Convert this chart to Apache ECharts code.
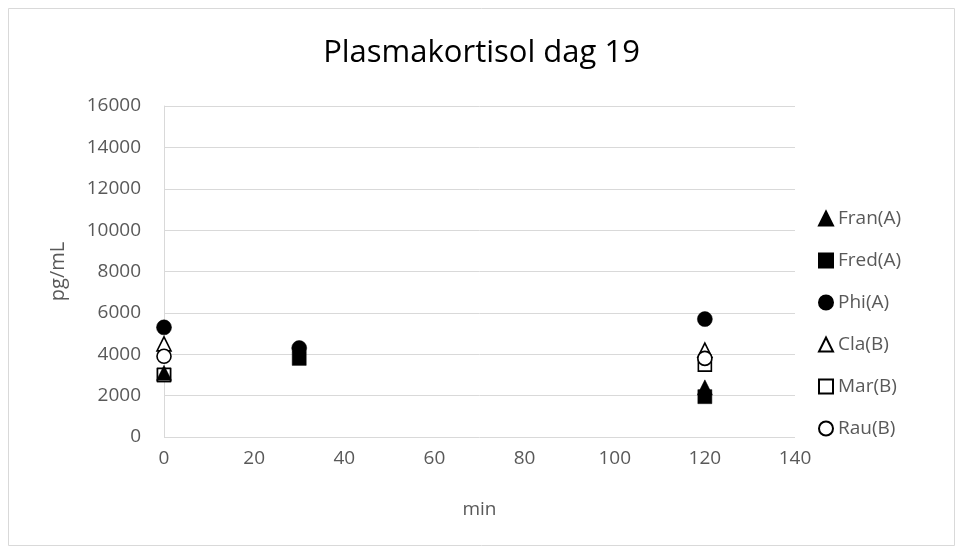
<!DOCTYPE html>
<html><head><meta charset="utf-8">
<script src="https://cdn.jsdelivr.net/npm/echarts@6/dist/echarts.min.js"></script>
<style>html,body{margin:0;padding:0;background:#fff}#c{width:963px;height:551px}</style>
</head><body><div id="c"></div>
<script>
const xTicks = [0, 20, 40, 60, 80, 100, 120, 140];
const seriesNames = ['Fran(A)', 'Fred(A)', 'Phi(A)', 'Cla(B)', 'Mar(B)', 'Rau(B)'];
const franA = [[0, 3100], [120, 2400]];
const fredA = [[0, 3000], [30, 3800], [120, 1950]];
const phiA = [[0, 5300], [30, 4300], [120, 5700]];
const claB = [[0, 4500], [120, 4200]];
const marB = [[0, 3000], [120, 3500]];
const rauB = [[0, 3900], [120, 3800]];

const font = 'Open Sans';
const chart = echarts.init(document.getElementById('c'), null, {renderer: 'canvas'});
function mk(name, data, symbol, size, filled, z) {
  return {
    name, type: 'scatter', data, symbol, symbolSize: size, z: z,
    itemStyle: filled ? {color: '#000', borderColor: '#000', borderWidth: 0.5, opacity: 1}
                      : {color: '#fff', borderColor: '#000', borderWidth: 1.6, opacity: 1},
    emphasis: {disabled: true}
  };
}
chart.setOption({
  animation: false,
  backgroundColor: '#fff',
  graphic: [{type: 'rect', shape: {x: 8.5, y: 8.5, width: 946, height: 537},
    style: {fill: 'none', stroke: '#d9d9d9', lineWidth: 1}}],
  title: {text: 'Plasmakortisol dag 19', left: 'center', top: 33,
    textStyle: {fontFamily: font, fontSize: 31, fontWeight: 'normal', color: '#000'}},
  grid: {left: 164, right: 168, top: 106, bottom: 114},
  legend: {
    orient: 'vertical', left: 813, top: 204, itemGap: 23, itemWidth: 14, itemHeight: 14,
    data: seriesNames,
    textStyle: {fontFamily: font, fontSize: 19, color: '#595959'}
  },
  xAxis: {
    type: 'value', min: 0, max: 140, interval: 20,
    name: 'min', nameLocation: 'middle', nameGap: 63,
    nameTextStyle: {fontFamily: font, fontSize: 19, color: '#595959'},
    axisLine: {show: false}, axisTick: {show: false}, splitLine: {show: false},
    axisLabel: {fontFamily: font, fontSize: 19, color: '#595959', margin: 12}
  },
  yAxis: {
    type: 'value', min: 0, max: 16000, interval: 2000,
    name: 'pg/mL', nameLocation: 'middle', nameGap: 96,
    nameTextStyle: {fontFamily: font, fontSize: 20, color: '#595959'},
    axisLine: {show: true, lineStyle: {color: '#d9d9d9', width: 1}},
    axisTick: {show: false},
    splitLine: {lineStyle: {color: '#d9d9d9', width: 1}},
    axisLabel: {fontFamily: font, fontSize: 19, color: '#595959', margin: 23,
      formatter: v => String(v)}
  },
  series: [
    mk('Fran(A)', franA, 'triangle', 15, true, 6),
    mk('Fred(A)', fredA, 'rect', 14, true, 2),
    mk('Phi(A)', phiA, 'circle', 15, true, 3),
    mk('Cla(B)', claB, 'triangle', 14, false, 4),
    mk('Mar(B)', marB, 'rect', 13, false, 5),
    mk('Rau(B)', rauB, 'circle', 14, false, 5)
  ]
});
</script></body></html>
